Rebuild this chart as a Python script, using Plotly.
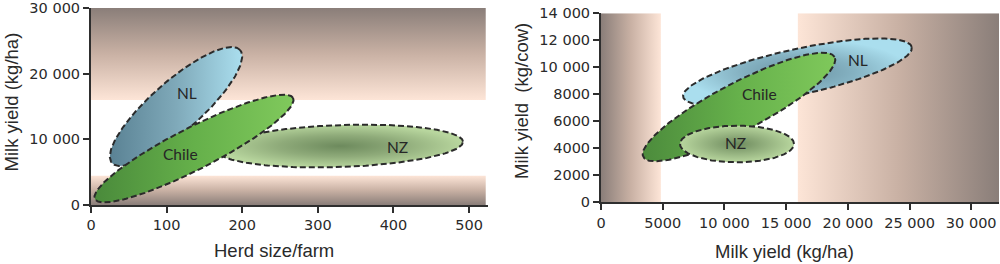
import numpy as np
import plotly.graph_objects as go

# ---------------- data ----------------
regions = ["NL", "Chile", "NZ"]

# left panel: herd size/farm vs milk yield (kg/ha)
left_center_x = [112.4, 136.2, 329.4]
left_center_y = [15000, 8600, 8980]
left_tip_x = [197.1, 267.2, 491.9]
left_tip_y = [23600, 16290, 9640]
left_label_x = [127, 117.7, 404.8]
left_label_y = [17100, 7770, 8830]

# right panel: milk yield (kg/ha) vs milk yield (kg/cow)
right_center_x = [15920, 11180, 11020]
right_center_y = [9650, 7060, 4320]
right_tip_x = [25180, 18930, 15640]
right_tip_y = [11500, 10760, 4320]
right_label_x = [20850, 12880, 10860]
right_label_y = [10540, 8000, 4415]

left_xticks = [0, 100, 200, 300, 400, 500]
left_yticks = [0, 10000, 20000, 30000]
left_ytext = ["0", "10 000", "20 000", "30 000"]
right_xticks = [0, 5000, 10000, 15000, 20000, 25000, 30000]
right_xtext = ["0", "5000", "10 000", "15 000", "20 000", "25 000", "30 000"]
right_yticks = [0, 2000, 4000, 6000, 8000, 10000, 12000, 14000]
right_ytext = ["0", "2000", "4000", "6000", "8000", "10 000", "12 000", "14 000"]

# shaded zones
left_band_high = [16000, 30000]
left_band_low = [0, 4460]
left_band_xmax = 522
right_band_low = [0, 4850]
right_band_high = [15950, 32250]

# ---------------- layout constants ----------------
W, H = 1000, 264
L_X0, L_X1, L_YB, L_YT = 91, 488, 205, 8
R_X0, R_X1, R_YB, R_YT = 601, 999, 202.3, 13.3
L_XR = [0, 525]
L_YR = [0, 30000]
R_XR = [0, 32250]
R_YR = [0, 14000]

sxL = (L_X1 - L_X0) / (L_XR[1] - L_XR[0])
syL = (L_YB - L_YT) / (L_YR[1] - L_YR[0])
sxR = (R_X1 - R_X0) / (R_XR[1] - R_XR[0])
syR = (R_YB - R_YT) / (R_YR[1] - R_YR[0])

left_halfwidth = [25, 21, 21]
right_halfwidth = [23, 24, 18.3]

DARK = "#8a7e79"
MID = "#c9b1a4"
PEACH = "#fde5d7"

def ellipse(cx, cy, tx, ty, b, sx, sy, n=240):
    ux, uy = (tx - cx) * sx, (ty - cy) * sy
    a = np.hypot(ux, uy)
    ex, ey = ux / a, uy / a
    t = np.linspace(0, 2 * np.pi, n)
    px = a * np.cos(t) * ex - b * np.sin(t) * ey
    py = a * np.cos(t) * ey + b * np.sin(t) * ex
    return cx + px / sx, cy + py / sy

def rect(x0, x1, y0, y1):
    return [x0, x1, x1, x0, x0], [y0, y0, y1, y1, y0]

fig = go.Figure()

def band(xs, ys, gtype, cs, xa, ya):
    fig.add_trace(go.Scatter(x=xs, y=ys, mode="lines", fill="toself",
                             fillgradient=dict(type=gtype, colorscale=cs),
                             line=dict(width=0, color="rgba(0,0,0,0)"),
                             hoverinfo="skip", showlegend=False, xaxis=xa, yaxis=ya))

x, y = rect(0, left_band_xmax, left_band_high[0], left_band_high[1])
band(x, y, "vertical", [[0, PEACH], [0.5, MID], [1, DARK]], "x", "y")
x, y = rect(0, left_band_xmax, left_band_low[0], left_band_low[1])
band(x, y, "vertical", [[0, DARK], [0.5, MID], [1, PEACH]], "x", "y")
x, y = rect(right_band_low[0], right_band_low[1], 0, 14000)
band(x, y, "horizontal", [[0, DARK], [0.5, MID], [1, PEACH]], "x2", "y2")
x, y = rect(right_band_high[0], right_band_high[1], 0, 14000)
band(x, y, "horizontal", [[0, PEACH], [0.5, MID], [1, DARK]], "x2", "y2")

OUTLINE = dict(color="#2b2b2b", width=2, dash="6px,3px")

fills_left = {
    "NL": dict(type="horizontal", colorscale=[[0, "#5a8294"], [0.5, "#7fa9b9"], [1, "#aadeee"]]),
    "Chile": dict(type="horizontal", colorscale=[[0, "#4a8a3b"], [0.5, "#65b04a"], [1, "#80c95c"]]),
    "NZ": dict(type="radial", colorscale=[[0, "#6d8a5d"], [0.5, "#8fab7a"], [1, "#b8d69e"]]),
}
fills_right = {
    "NL": dict(type="radial", colorscale=[[0, "#6a92a2"], [0.5, "#85b2c2"], [1, "#aadeee"]]),
    "Chile": dict(type="horizontal", colorscale=[[0, "#4c8b3c"], [0.5, "#66b14b"], [1, "#7fc85b"]]),
    "NZ": dict(type="radial", colorscale=[[0, "#6d8a5d"], [0.5, "#93b07e"], [1, "#b8d69e"]]),
}

for name in ["NZ", "NL", "Chile"]:
    i = regions.index(name)
    ex, ey = ellipse(left_center_x[i], left_center_y[i], left_tip_x[i], left_tip_y[i],
                     left_halfwidth[i], sxL, syL)
    fig.add_trace(go.Scatter(x=ex, y=ey, mode="lines", fill="toself",
                             fillgradient=fills_left[name], line=OUTLINE,
                             hoverinfo="skip", showlegend=False, xaxis="x", yaxis="y"))

for name in ["NL", "Chile", "NZ"]:
    i = regions.index(name)
    ex, ey = ellipse(right_center_x[i], right_center_y[i], right_tip_x[i], right_tip_y[i],
                     right_halfwidth[i], sxR, syR)
    fig.add_trace(go.Scatter(x=ex, y=ey, mode="lines", fill="toself",
                             fillgradient=fills_right[name], line=OUTLINE,
                             hoverinfo="skip", showlegend=False, xaxis="x2", yaxis="y2"))

LABEL_FONT = dict(family="Lato", size=15.5, color="#262626")
annotations = []
for i, name in enumerate(regions):
    annotations.append(dict(x=left_label_x[i], y=left_label_y[i], xref="x", yref="y",
                            text=name, showarrow=False, font=LABEL_FONT))
    annotations.append(dict(x=right_label_x[i], y=right_label_y[i], xref="x2", yref="y2",
                            text=name, showarrow=False, font=LABEL_FONT))

TITLE_FONT = dict(family="Liberation Sans, Arial, sans-serif", size=18.5, color="#2a2a2a")
def px2paper(px, py):
    return px / W, 1 - py / H

for text, px, py, ang in [
    ("Herd size/farm", 274, 250, 0),
    ("Milk yield (kg/ha)", 784, 251, 0),
    ("Milk yield (kg/ha)", 11, 102.5, -90),
    ("Milk yield\u00a0 (kg/cow)", 521, 101, -90),
]:
    ax, ay = px2paper(px, py)
    annotations.append(dict(x=ax, y=ay, xref="paper", yref="paper", text=text,
                            showarrow=False, textangle=ang, font=TITLE_FONT,
                            xanchor="center", yanchor="middle"))

TICK_FONT = dict(family="DejaVu Sans", size=14.5, color="#2a2a2a")
axis_common = dict(showline=True, linecolor="#2e2e2e", linewidth=2, ticks="outside",
                   ticklen=6, tickwidth=1.5, tickcolor="#2e2e2e", showgrid=False,
                   zeroline=False, tickfont=TICK_FONT, fixedrange=True, automargin=False)

fig.update_layout(
    width=W, height=H, autosize=False,
    margin=dict(l=0, r=0, t=0, b=0, pad=0, autoexpand=False),
    paper_bgcolor="white", plot_bgcolor="rgba(0,0,0,0)",
    showlegend=False,
    xaxis=dict(domain=[L_X0 / W, L_X1 / W], range=L_XR, tickvals=left_xticks,
               anchor="y", **axis_common),
    yaxis=dict(domain=[1 - L_YB / H, 1 - L_YT / H], range=L_YR, tickvals=left_yticks,
               ticktext=left_ytext, anchor="x", **axis_common),
    xaxis2=dict(domain=[R_X0 / W, R_X1 / W], range=R_XR, tickvals=right_xticks,
                ticktext=right_xtext, anchor="y2", **axis_common),
    yaxis2=dict(domain=[1 - R_YB / H, 1 - R_YT / H], range=R_YR, tickvals=right_yticks,
                ticktext=right_ytext, anchor="x2", **axis_common),
    annotations=annotations,
)

fig.write_html(
    "out.html",
    config={"responsive": False, "displayModeBar": False},
    post_script="document.body.style.margin='0';document.body.style.padding='0';"
                "document.documentElement.style.overflow='hidden';"
                "document.body.style.overflow='hidden';",
)
